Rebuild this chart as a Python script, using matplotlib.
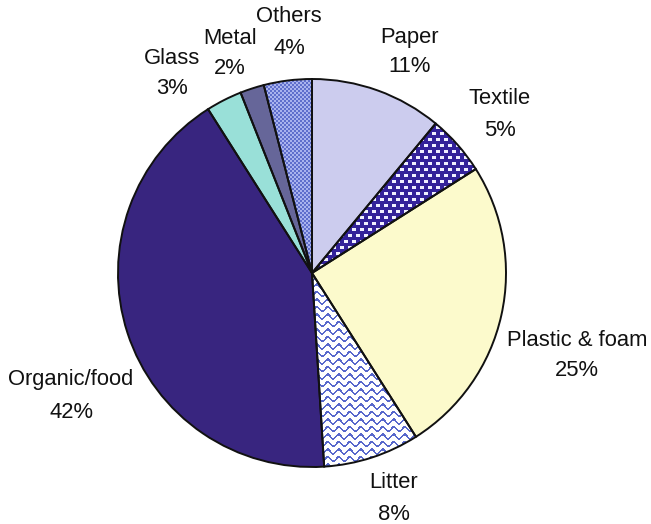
import numpy as np
import matplotlib
matplotlib.use("Agg")
import matplotlib.pyplot as plt

# ---- data ----
categories = ["Paper", "Textile", "Plastic & foam", "Litter", "Organic/food", "Glass", "Metal", "Others"]
values = [11, 5, 25, 8, 42, 3, 2, 4]

# ---- styles / layout ----
base_colors = ["#CCCCEE", "#33229A", "#FCFACC", "#FFFFFF", "#38257F", "#99E0D8", "#666699", "#8090DD"]
label_pos = {  # (x center, y of name line, y of percent line) in pixels from top-left
    "Paper": (410, 37, 67),
    "Textile": (500, 99, 130),
    "Plastic & foam": (577, 340, 371),
    "Litter": (394, 483, 515),
    "Organic/food": (71, 380, 412),
    "Glass": (172, 59, 89),
    "Metal": (230, 38, 68),
    "Others": (289, 17, 48),
}
W, H = 651, 524
cx, cy_top, R = 312, 273, 194

fig = plt.figure(figsize=(W / 100, H / 100), dpi=100)
ax = fig.add_axes([0, 0, 1, 1])

wedges, _ = ax.pie(values, colors=base_colors, startangle=90, counterclock=False,
                   center=(cx, H - cy_top), radius=R,
                   wedgeprops=dict(edgecolor="none", linewidth=0))
ax.set_xlim(0, W)
ax.set_ylim(0, H)
ax.set_aspect("equal")
ax.axis("off")

# ---- textures ----
yy, xx = np.mgrid[0:H, 0:W]

def rgb(h):
    h = h.lstrip("#")
    return np.array([int(h[i:i + 2], 16) / 255 for i in (0, 2, 4)])

# Textile: navy with white staggered oval dots
tex = np.zeros((H, W, 3)) + rgb("#33229A")
row = yy // 6
shift = (row % 2) * 4
dotx = ((xx + shift) % 8) < 4
doty = (yy % 6) < 3
tex[dotx & doty] = rgb("#F0F0FF")

# Litter: white with blue waves
lit = np.zeros((H, W, 3)) + 1.0
y0 = yy - 2.2 * np.sin(2 * np.pi * xx / 11.0)
lit[(y0 % 7.5) < 2.2] = rgb("#5868CC")

# Others: fine checker
chk = np.zeros((H, W, 3)) + rgb("#A9B3EE")
chk[((xx // 2) + (yy // 2)) % 2 == 0] = rgb("#5F6FCC")

for name, img in (("Textile", tex), ("Litter", lit), ("Others", chk)):
    w = wedges[categories.index(name)]
    im = ax.imshow(img, extent=(0, W, 0, H), origin="upper", interpolation="nearest", zorder=2)
    im.set_clip_path(w)

# outlines on top
ax.pie(values, startangle=90, counterclock=False, center=(cx, H - cy_top), radius=R,
       wedgeprops=dict(fill=False, edgecolor="#111111", linewidth=1.4, zorder=5))
ax.set_xlim(0, W)
ax.set_ylim(0, H)

font = dict(family=["Liberation Sans", "DejaVu Sans"], fontsize=15.8, color="#111111",
            ha="center", va="center")
for name, v in zip(categories, values):
    x, y1, y2 = label_pos[name]
    ax.text(x, H - y1, name, **font)
    ax.text(x, H - y2, f"{v}%", **font)

fig.savefig("out.png", dpi=100)
